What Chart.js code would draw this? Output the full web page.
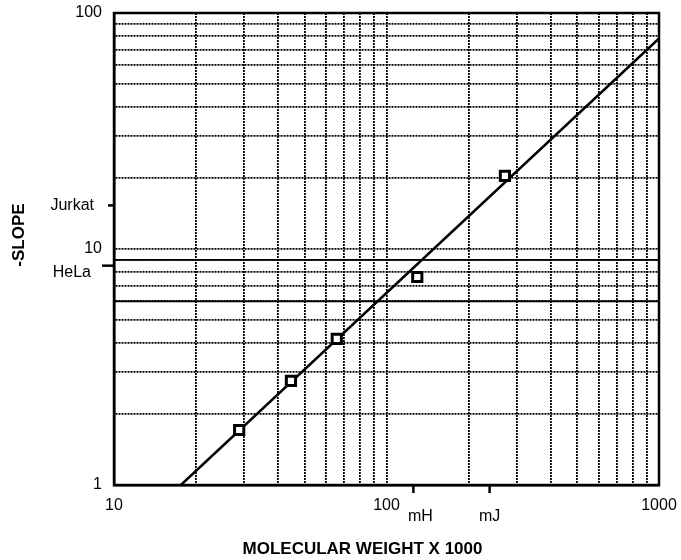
<!DOCTYPE html>
<html>
<head>
<meta charset="utf-8">
<script src="https://cdn.jsdelivr.net/npm/chart.js@4/dist/chart.umd.min.js"></script>
<style>
  body { margin: 0; background: #fff; }
  canvas { display: block; }
</style>
</head>
<body>
<canvas id="chart" width="681" height="560"></canvas>
<script>
// measured points (molecular weight x1000, -slope)
const molWeights = [28.8, 44.6, 65.7, 129.7, 272];
const slopes = [1.71, 2.76, 4.16, 7.61, 20.4];

// fitted line end points
const fitX = [17.6, 1000];
const fitY = [1, 78];

const xTickValues = [10, 20, 30, 40, 50, 60, 70, 80, 90, 100, 200, 300, 400, 500, 600, 700, 800, 900, 1000];
const yTickValues = [1, 2, 3, 4, 5, 6, 7, 8, 9, 10, 20, 30, 40, 50, 60, 70, 80, 90, 100];
const xMajor = [10, 100, 1000];
const yMajor = [1, 10, 100];
const solidGridY = [9, 6];

// cell lines marked on the axes
const yMarkLabels = ['Jurkat', 'HeLa'];
const yMarkValues = [15.3, 8.5];
const xMarkLabels = ['mH', 'mJ'];
const xMarkValues = [125.5, 239];

const FONT = '"Liberation Sans", Arial, sans-serif';

const extras = {
  id: 'extras',
  afterDatasetsDraw(chart) {
    const { ctx, chartArea: a, scales } = chart;
    ctx.save();
    ctx.strokeStyle = '#000';
    ctx.lineWidth = 1.8;
    solidGridY.forEach((v) => {
      const y = scales.y.getPixelForValue(v);
      ctx.beginPath();
      ctx.moveTo(a.left, y);
      ctx.lineTo(a.right, y);
      ctx.stroke();
    });
    ctx.lineWidth = 2.5;
    ctx.strokeRect(a.left, a.top, a.right - a.left, a.bottom - a.top);
    ctx.restore();
  },
  afterDraw(chart) {
    const { ctx, chartArea: a, scales } = chart;
    ctx.save();
    ctx.fillStyle = '#000';
    ctx.strokeStyle = '#000';
    ctx.lineWidth = 2.5;
    ctx.font = '16px ' + FONT;

    yMarkLabels.forEach((label, i) => {
      const y = scales.y.getPixelForValue(yMarkValues[i]);
      const len = i === 0 ? 6 : 12;
      ctx.beginPath();
      ctx.moveTo(a.left - len, y);
      ctx.lineTo(a.left, y);
      ctx.stroke();
      ctx.textAlign = 'right';
      ctx.textBaseline = 'middle';
      ctx.fillText(label, i === 0 ? 94 : 91, i === 0 ? y : y + 7);
    });

    xMarkLabels.forEach((label, i) => {
      const x = scales.x.getPixelForValue(xMarkValues[i]);
      ctx.beginPath();
      ctx.moveTo(x, a.bottom);
      ctx.lineTo(x, a.bottom + 8);
      ctx.stroke();
      ctx.textAlign = 'center';
      ctx.textBaseline = 'middle';
      ctx.fillText(label, i === 0 ? x + 7 : x, a.bottom + 32);
    });

    // axis titles
    ctx.font = 'bold 17px ' + FONT;
    ctx.textAlign = 'center';
    ctx.textBaseline = 'middle';
    ctx.fillText('MOLECULAR WEIGHT X 1000', (a.left + a.right) / 2 - 24, 549);
    ctx.translate(19, (a.top + a.bottom) / 2 - 14);
    ctx.rotate(-Math.PI / 2);
    ctx.fillText('-SLOPE', 0, 0);
    ctx.restore();
  }
};

const noPad = (scale) => {
  scale.paddingTop = 0;
  scale.paddingBottom = 0;
  scale.paddingLeft = 0;
  scale.paddingRight = 0;
};

const points = molWeights.map((x, i) => ({ x: x, y: slopes[i] }));
const fitLine = fitX.map((x, i) => ({ x: x, y: fitY[i] }));

new Chart(document.getElementById('chart'), {
  type: 'scatter',
  data: {
    datasets: [
      {
        data: points,
        pointStyle: 'rect',
        pointRadius: 6.5,
        pointBorderWidth: 3,
        pointBorderColor: '#000',
        pointBackgroundColor: '#fff',
      },
      {
        data: fitLine,
        showLine: true,
        pointRadius: 0,
        borderColor: '#000',
        borderWidth: 2.5,
      },
    ],
  },
  options: {
    responsive: false,
    animation: false,
    layout: { padding: { top: 13, right: 22, left: 0, bottom: 0 } },
    plugins: { legend: { display: false }, tooltip: { enabled: false } },
    scales: {
      x: {
        type: 'logarithmic',
        min: 10,
        max: 1000,
        afterBuildTicks: (scale) => { scale.ticks = xTickValues.map((v) => ({ value: v })); },
        afterFit: (scale) => { scale.height = 75; noPad(scale); },
        grid: { color: '#000', lineWidth: 1.8, drawTicks: false },
        border: { color: '#000', width: 2.5, dash: [2, 1] },
        ticks: {
          autoSkip: false,
          maxRotation: 0,
          padding: 11,
          color: '#000',
          font: { family: FONT, size: 16 },
          callback: (v) => (xMajor.includes(v) ? String(v) : ''),
        },
      },
      y: {
        type: 'logarithmic',
        min: 1,
        max: 100,
        afterBuildTicks: (scale) => { scale.ticks = yTickValues.map((v) => ({ value: v })); },
        afterFit: (scale) => { scale.width = 114; noPad(scale); },
        grid: { color: '#000', lineWidth: 1.8, drawTicks: false },
        border: { color: '#000', width: 2.5, dash: [2, 1] },
        ticks: {
          autoSkip: false,
          padding: 12,
          color: '#000',
          font: { family: FONT, size: 16 },
          callback: (v) => (yMajor.includes(v) ? String(v) : ''),
        },
      },
    },
  },
  plugins: [extras],
});
</script>
</body>
</html>
